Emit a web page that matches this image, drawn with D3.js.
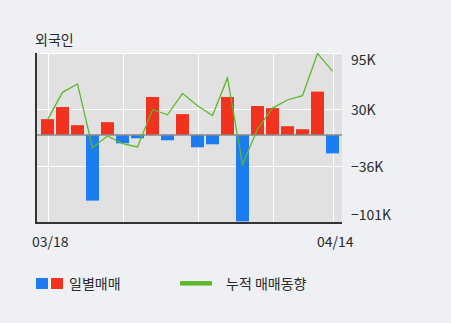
<!DOCTYPE html>
<html>
<head>
<meta charset="utf-8">
<script src="https://cdn.jsdelivr.net/npm/d3@7"></script>
<style>
  body { margin:0; background:#eef0f4; }
  text { font-family: "Noto Sans CJK KR", "Noto Sans", sans-serif; fill:#2a2a2a; }
</style>
</head>
<body>
<div id="main"></div>
<script>
var W = 451, H = 323;

// daily net trading (K), cumulative trend (read on same axis)
var days = d3.range(20);
var daily = [18.3, 32.3, 11.3, -76.2, 14.8, -9.7, -3.9, 44, -6.2, 24.1,
             -14.4, -10.9, 44, -100.3, 33.5, 31.1, 10.1, 6.6, 50.2, -21.4];
var trend = [17.5, 49.4, 59.1, -14.8, -1.2, -10.1, -14, 29.2, 23.3, 48.2,
             33.8, 22.6, 66.1, -34.2, 6.6, 31.1, 40.5, 45.5, 94.5, 73.9];
var yTicks = [95, 30, -36, -101];
var yTickLabels = ["95K", "30K", "\u221236K", "\u2212101K"];
var xLabels = ["03/18", "04/14"];
var gridDays = [0, 5, 10, 15, 19];

var plotL = 37, plotR = 342, plotT = 53, plotB = 222;

var svg = d3.select("#main").append("svg")
  .attr("width", W).attr("height", H);

var x = d3.scaleLinear().domain([0, 19]).range([47.5, 332.5]);
var y = d3.scaleLinear().domain([-101, 95]).range([plotB, plotT]);

svg.append("rect")
  .attr("x", plotL).attr("y", plotT)
  .attr("width", plotR - plotL).attr("height", plotB - plotT)
  .attr("fill", "#e1e1e1");

// grid
svg.selectAll(".hg").data(yTicks).enter().append("line")
  .attr("x1", plotL).attr("x2", plotR)
  .attr("y1", function(d){ return Math.round(y(d)) + 0.5; })
  .attr("y2", function(d){ return Math.round(y(d)) + 0.5; })
  .attr("stroke", "#fff").attr("stroke-width", 1);
svg.selectAll(".vg").data(gridDays).enter().append("line")
  .attr("x1", function(d){ return Math.round(x(d)) + 0.5; })
  .attr("x2", function(d){ return Math.round(x(d)) + 0.5; })
  .attr("y1", plotT).attr("y2", plotB)
  .attr("stroke", "#fff").attr("stroke-width", 1);

// bars
var bw = 13;
svg.selectAll(".bar").data(daily).enter().append("rect")
  .attr("x", function(d, i){ return x(i) - bw / 2; })
  .attr("y", function(d){ return d > 0 ? y(d) : y(0); })
  .attr("width", bw)
  .attr("height", function(d){ return Math.abs(y(d) - y(0)); })
  .attr("fill", function(d){ return d > 0 ? "#f0321e" : "#1c7cf0"; });

// zero line
svg.append("line")
  .attr("x1", plotL).attr("x2", plotR)
  .attr("y1", y(0)).attr("y2", y(0))
  .attr("stroke", "#888").attr("stroke-width", 1.5);

// trend line
var line = d3.line()
  .x(function(d, i){ return x(i); })
  .y(function(d){ return y(d); });
svg.append("path").datum(trend)
  .attr("d", line)
  .attr("fill", "none")
  .attr("stroke", "#5cb82a")
  .attr("stroke-width", 1.3);

// axes lines
svg.append("line")
  .attr("x1", 36).attr("x2", 36).attr("y1", plotT).attr("y2", plotB + 1)
  .attr("stroke", "#333").attr("stroke-width", 2);
svg.append("line")
  .attr("x1", 35).attr("x2", plotR).attr("y1", plotB + 1).attr("y2", plotB + 1)
  .attr("stroke", "#333").attr("stroke-width", 2);

// y labels (outer ones kept inside the plot height)
svg.selectAll(".yl").data(yTicks).enter().append("text")
  .attr("x", 351)
  .attr("y", function(d){ return Math.min(220, Math.max(65, y(d) + 6)); })
  .attr("font-size", 14)
  .text(function(d, i){ return yTickLabels[i]; });

// x labels
svg.append("text").attr("x", 32).attr("y", 247).attr("font-size", 14).text(xLabels[0]);
svg.append("text").attr("x", 317).attr("y", 247).attr("font-size", 14).text(xLabels[1]);

// title
svg.append("text").attr("x", 35).attr("y", 45).attr("font-size", 14).text("외국인");

// legend
svg.append("rect").attr("x", 36).attr("y", 278).attr("width", 12).attr("height", 11).attr("fill", "#1c7cf0");
svg.append("rect").attr("x", 51).attr("y", 278).attr("width", 12).attr("height", 11).attr("fill", "#f0321e");
svg.append("text").attr("x", 69).attr("y", 289).attr("font-size", 14).text("일별매매");
svg.append("line").attr("x1", 180).attr("x2", 212).attr("y1", 283.3).attr("y2", 283.3)
  .attr("stroke", "#5cb82a").attr("stroke-width", 4.5);
svg.append("text").attr("x", 226).attr("y", 289).attr("font-size", 14).text("누적 매매동향");
</script>
</body>
</html>
